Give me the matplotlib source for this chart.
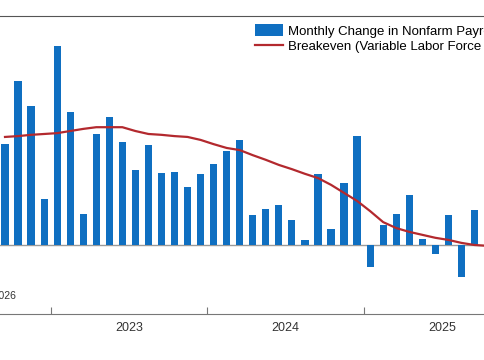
import matplotlib.pyplot as plt
import numpy as np

plt.rcParams['font.family'] = ['Liberation Sans', 'DejaVu Sans']

# monthly change in nonfarm payrolls (thousands), Sep 2022 .. Sep 2025
payrolls = [238, 387, 328, 109,
            470, 314, 73, 262, 302, 243, 177, 236, 170, 172, 137, 168,
            191, 222, 248, 71, 85, 94, 59, 12, 168, 38, 146, 257,
            -52, 47, 73, 118, 14, -21, 71, -76, 83]
# breakeven (variable labor force), Sep 2022 .. Oct 2025
breakeven = [255, 257, 260, 262,
             264, 269, 274, 278, 278, 278, 269, 262, 260, 257, 255, 248,
             238, 229, 224, 212, 201, 189, 179, 168, 158, 142, 123, 104,
             80, 54, 40, 31, 24, 17, 12, 5, 0, -2]
years = ["2023", "2024", "2025"]
year_start = [3.5, 15.5, 27.5]  # month index of each Jan boundary

bar_color = "#0f6fc1"
line_color = "#b3292e"

fig = plt.figure(figsize=(4.85, 3.6), dpi=100)
ax = fig.add_axes([0, 46 / 360, 1, 298 / 360])

xb = np.arange(len(payrolls))
xl = np.arange(len(breakeven))
bars = ax.bar(xb, payrolls, width=0.55, color=bar_color,
              label="Monthly Change in Nonfarm Payrolls")
line, = ax.plot(xl, breakeven, color=line_color, lw=1.6,
                label="Breakeven (Variable Labor Force Participation)")
ax.axhline(0, color="#9a9a9a", lw=1, zorder=0)

ax.set_xlim(-5 / 13.04, 480 / 13.04)
ax.set_ylim(-69 * 2.36, 229 * 2.36)

for s in ["left", "right"]:
    ax.spines[s].set_visible(False)
ax.spines["top"].set_color("#555555")
ax.spines["bottom"].set_color("#777777")
ax.set_yticks([])

ax.set_xticks(year_start)
ax.set_xticklabels([])
ax.tick_params(axis="x", which="major", direction="in", length=5,
               color="#777777")
ax.set_xticks([y + 6 for y in year_start], minor=True)
ax.set_xticklabels(years, minor=True, fontsize=9, color="#333333")
ax.tick_params(axis="x", which="minor", length=0, pad=6)

ax.text(16 / 485, 18 / 298, "Jan 2026", transform=ax.transAxes,
        ha="right", va="center", fontsize=7.5, color="#333333")

ax.legend([bars, line], [bars.get_label(), line.get_label()],
          loc="upper left", bbox_to_anchor=(250 / 485, 1 - 3 / 298),
          frameon=False, fontsize=9.5, handlelength=2.1, handleheight=1.0,
          handletextpad=0.4, labelspacing=0.14, borderaxespad=0)

fig.savefig("out.png", dpi=100)
